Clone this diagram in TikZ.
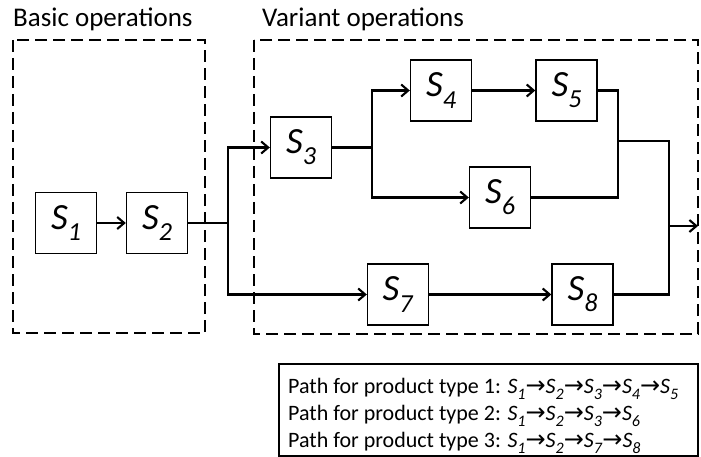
\documentclass[tikz,border=0pt]{standalone}
\usepackage{fontspec}
\setmainfont{Carlito}
\newfontfamily\symf{DejaVu Sans}
\usetikzlibrary{arrows.meta}
\newcommand\SubS[2]{\textit{S}\raisebox{-0.3em}{\fontsize{#2}{#2}\selectfont\textit{#1}}}
\newcommand\Ar{{\symf\fontsize{24}{24}\selectfont →}}
\tikzset{
  stage/.style={draw, line width=1.4pt, minimum width=61pt, minimum height=61pt, inner sep=0pt, font=\fontsize{37}{44}\selectfont},
  flow/.style={line width=2.1pt},
  flowarr/.style={line width=2.1pt, -{Straight Barb[length=7pt,width=12pt,line width=2.1pt]}},
  group/.style={draw, line width=1.4pt, dash pattern=on 12pt off 6pt},
  title/.style={anchor=base west, inner sep=0pt, font=\fontsize{27}{32}\selectfont},
  legtext/.style={anchor=base west, inner sep=0pt, font=\fontsize{22}{27}\selectfont}
}
\begin{document}
\begin{tikzpicture}[x=1pt,y=-1pt]
\useasboundingbox (0,0) rectangle (701,457);
% group boxes
\draw[group] (13,40) rectangle (205,333);
\draw[group] (254,40) rectangle (698,334);
\node[title] (tb) at (13,27) {Basic operations};
\node[title] (tv) at (262,27) {Variant operations};
% stages
\node[stage] (s1) at (66,223) {\SubS{1}{26}};
\node[stage] (s2) at (157,223) {\SubS{2}{26}};
\node[stage] (s3) at (301,147.5) {\SubS{3}{26}};
\node[stage] (s4) at (441,90.5) {\SubS{4}{26}};
\node[stage] (s5) at (566.5,90.5) {\SubS{5}{26}};
\node[stage] (s6) at (500,197.5) {\SubS{6}{26}};
\node[stage] (s7) at (398,294.5) {\SubS{7}{26}};
\node[stage] (s8) at (582.5,294.5) {\SubS{8}{26}};
% junctions
\coordinate (j1) at (228,223);
\coordinate (j2) at (372,147.5);
\coordinate (j3a) at (618,90.5);
\coordinate (j3b) at (618,197.5);
\coordinate (j3) at (618,141);
\coordinate (j4) at (669,141);
\coordinate (j4b) at (669,294.5);
\coordinate (j5) at (669,226);
\coordinate (out) at (698,226);
% connectors
\draw[flowarr] (s1) -- (s2);
\draw[flow] (s2.east) -- (j1);
\draw[flowarr] (j1) |- (s3.west);
\draw[flowarr] (j1) |- (s7.west);
\draw[flow] (s3.east) -- (j2);
\draw[flowarr] (j2) |- (s4.west);
\draw[flowarr] (j2) |- (s6.west);
\draw[flowarr] (s4) -- (s5);
\draw[flowarr] (s7) -- (s8);
\draw[flow] (s5.east) -- (j3a) -- (j3b) -- (s6.east);
\draw[flow] (j3) -- (j4) -- (j4b) -- (s8.east);
\draw[flowarr] (j5) -- (out);
% legend
\draw[line width=1.4pt] (279,364) rectangle (698,456);
\node[legtext] (l1) at (288,393) {Path for product type 1: \SubS{1}{16}\Ar\SubS{2}{16}\Ar\SubS{3}{16}\Ar\SubS{4}{16}\Ar\SubS{5}{16}};
\node[legtext] (l2) at (288,420) {Path for product type 2: \SubS{1}{16}\Ar\SubS{2}{16}\Ar\SubS{3}{16}\Ar\SubS{6}{16}};
\node[legtext] (l3) at (288,447) {Path for product type 3: \SubS{1}{16}\Ar\SubS{2}{16}\Ar\SubS{7}{16}\Ar\SubS{8}{16}};
\end{tikzpicture}
\end{document}
